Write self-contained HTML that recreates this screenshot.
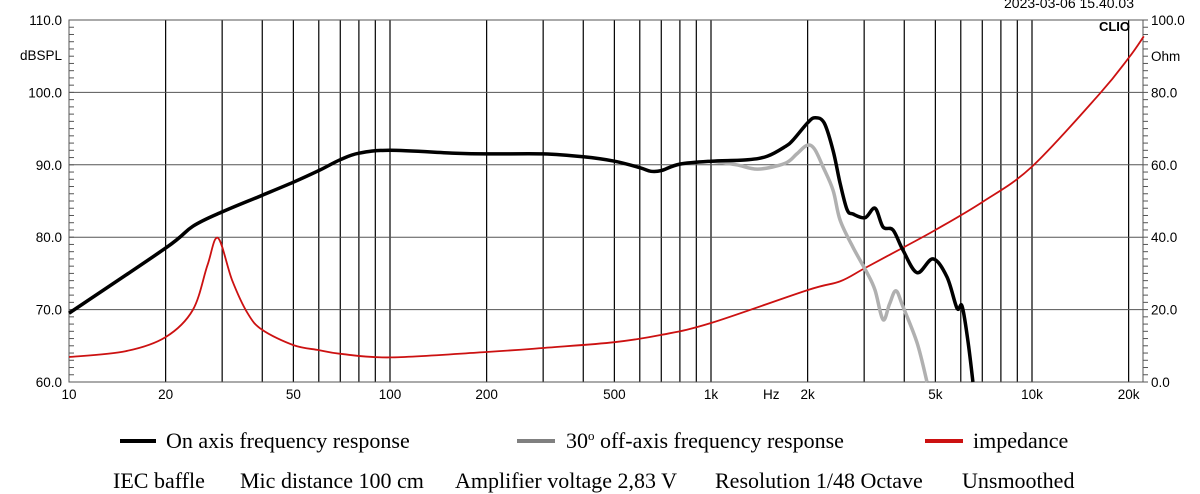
<!DOCTYPE html>
<html><head><meta charset="utf-8">
<style>
html,body{margin:0;padding:0;background:#fff;width:1200px;height:494px;overflow:hidden}
svg{display:block}
.ax{font-family:"Liberation Sans",sans-serif;font-size:13.5px;fill:#000}
.lg{font-family:"Liberation Serif",serif;font-size:22px;fill:#000}
</style></head>
<body>
<svg id="chart" width="1200" height="494" viewBox="0 0 1200 494">
<g id="grid"></g>
<g id="ticks"></g>
<g id="curves"></g>
<g id="labels"></g>
<text class="ax" x="1134" y="8" text-anchor="end" style="font-size:14px">2023-03-06 15.40.03</text>
<text x="1130" y="31" text-anchor="end" style="font-family:'Liberation Sans',sans-serif;font-size:13px;font-weight:bold">CLIO</text>
<text class="ax" x="62" y="60" text-anchor="end">dBSPL</text>
<text class="ax" x="1151" y="61">Ohm</text>
<text class="ax" x="763" y="399">Hz</text>
<g>
<g><rect x="120" y="439" width="36" height="4" fill="#000"/><text class="lg" x="166" y="448">On axis frequency response</text></g>
<g><rect x="517" y="439" width="38" height="4" fill="#808080"/><text class="lg" x="566" y="448">30<tspan dy="-8" font-size="13">o</tspan><tspan dy="8"> off-axis frequency response</tspan></text></g>
<g><rect x="925" y="439" width="38" height="4" fill="#cc1111"/><text class="lg" x="973" y="448">impedance</text></g>
</g>
<g>
<text class="lg" x="113" y="488">IEC baffle</text>
<text class="lg" x="240" y="488">Mic distance 100 cm</text>
<text class="lg" x="455" y="488">Amplifier voltage 2,83 V</text>
<text class="lg" x="715" y="488">Resolution 1/48 Octave</text>
<text class="lg" x="962" y="488">Unsmoothed</text>
</g>
</svg>
<script>
const onFreq=[10,20,24.3,30,40,50,60,70,80,100,160,200,300,400,500,600,650,700,800,1000,1300,1500,1700,1800,2000,2108,2250,2400,2523,2654,2769,3020,3243,3436,3690,3963,4385,4917,5436,5840,6053,6300,6547];
const onDb=[69.5,78.5,81.5,83.5,85.8,87.6,89.2,90.7,91.6,92.0,91.6,91.5,91.5,91.1,90.5,89.6,89.1,89.2,90.1,90.5,90.7,91.2,92.5,93.4,95.8,96.5,95.8,92.0,87.5,83.8,83.2,82.7,84.0,81.4,81.0,78.2,75.1,77.0,74.5,70.2,70.5,66,60];
const offFreq=[1000,1200,1400,1700,1850,1991,2100,2234,2400,2523,2769,3062,3243,3436,3600,3769,3963,4385,4709];
const offDb=[90.5,90.0,89.4,90.2,91.5,92.7,92.2,89.7,86.5,82.4,78.6,75.1,72.7,68.6,70.8,72.6,70.4,65.4,60];
const impFreq=[10,15,20,24.3,27,29.1,32.2,36,40,50,60,70,100,200,300,500,700,1000,2000,2523,3020,4000,5000,7000,10000,16200,20000,22300];
const impOhm=[6.9,8.5,12.4,19.9,32.3,39.8,28.2,19,14.4,10.2,8.8,7.8,6.8,8.3,9.4,11.0,13.0,16.3,25.4,27.8,31.5,37.3,42.0,49.7,59.5,79.5,89.5,95.5];
const dbTicks=[60,70,80,90,100,110];
const ohmTicks=[0,20,40,60,80,100];
const xTickVals=[10,20,50,100,200,500,1000,2000,5000,10000,20000];
const xTickLabels=["10","20","50","100","200","500","1k","2k","5k","10k","20k"];
const gridFreqs=[20,30,40,50,60,70,80,90,100,200,300,400,500,600,700,800,900,1000,2000,3000,4000,5000,6000,7000,8000,9000,10000,20000];

const L=69,R=1143,T=20,B=382;
function X(f){return L+(Math.log10(f)-1)*321;}
function Ydb(d){return B-(d-60)/50*(B-T);}
function Yohm(o){return B-o/100*(B-T);}
const NS="http://www.w3.org/2000/svg";
function mk(tag,parent,attrs){const e=document.createElementNS(NS,tag);for(const k in attrs)e.setAttribute(k,attrs[k]);parent.appendChild(e);return e;}
const grid=document.getElementById('grid'),ticks=document.getElementById('ticks'),curves=document.getElementById('curves'),labels=document.getElementById('labels');
const fr=mk('rect',grid,{x:L,y:T,width:R-L,height:B-T,fill:'none',stroke:'#555','stroke-width':1});


gridFreqs.forEach(f=>{const l=mk('line',grid,{x1:X(f),x2:X(f),y1:T,y2:B,stroke:'#000','stroke-width':1.2});

});
dbTicks.forEach(d=>{const l=mk('line',grid,{x1:L,x2:R,y1:Ydb(d),y2:Ydb(d),stroke:'#555','stroke-width':1});


const t=mk('text',labels,{x:62,y:Ydb(d)+5,'text-anchor':'end',class:'ax'});t.textContent=d.toFixed(1);

});
ohmTicks.forEach(o=>{const t=mk('text',labels,{x:1151,y:Yohm(o)+5,class:'ax'});t.textContent=o.toFixed(1);

});
for(let d=60;d<=110;d+=1){const y=Ydb(d);mk('line',ticks,{x1:L,x2:L+5,y1:y,y2:y,stroke:'#555','stroke-width':1});mk('line',ticks,{x1:R,x2:R+5,y1:y,y2:y,stroke:'#555','stroke-width':1});}
xTickVals.forEach((f,i)=>{const t=mk('text',labels,{x:X(f),y:399,'text-anchor':'middle',class:'ax'});t.textContent=xTickLabels[i];

});
function path(xs,ys){const p=xs.map((x,i)=>[x,ys[i]]);let d='M'+p[0][0].toFixed(1)+','+p[0][1].toFixed(1);
for(let i=0;i<p.length-1;i++){const p0=p[i-1]||p[i],p1=p[i],p2=p[i+1],p3=p[i+2]||p2;
const c1x=p1[0]+(p2[0]-p0[0])/6,c1y=p1[1]+(p2[1]-p0[1])/6,c2x=p2[0]-(p3[0]-p1[0])/6,c2y=p2[1]-(p3[1]-p1[1])/6;
d+=' C'+c1x.toFixed(1)+','+c1y.toFixed(1)+' '+c2x.toFixed(1)+','+c2y.toFixed(1)+' '+p2[0].toFixed(1)+','+p2[1].toFixed(1);}return d;}
const imp=mk('path',curves,{d:path(impFreq.map(X),impOhm.map(Yohm)),fill:'none',stroke:'#cc1111','stroke-width':1.8});


const off=mk('path',curves,{d:path(offFreq.map(X),offDb.map(Ydb)),fill:'none',stroke:'#b0b0b0','stroke-width':3.5,'stroke-linejoin':'round'});


const on=mk('path',curves,{d:path(onFreq.map(X),onDb.map(Ydb)),fill:'none',stroke:'#000','stroke-width':3.5,'stroke-linejoin':'round'});


</script>
</body></html>
